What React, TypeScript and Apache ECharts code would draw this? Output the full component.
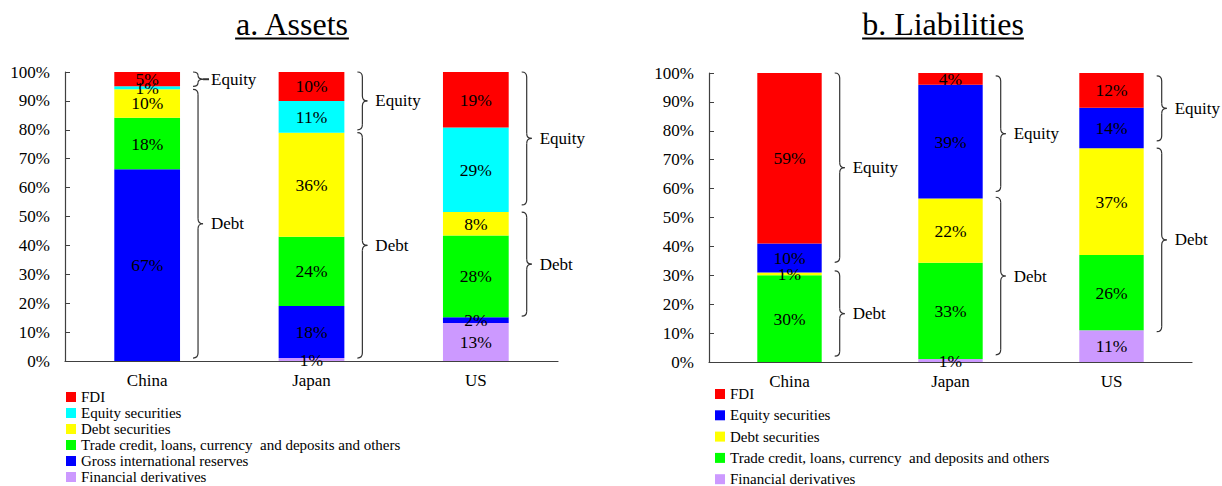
import React, { useEffect, useRef } from "react";
import * as echarts from "echarts";

const FONT = '"Liberation Serif", "Times New Roman", serif';

const categories = ["China", "Japan", "US"];

// a. Assets (% shares as labelled), bottom to top
const assetsDerivatives = [0, 1, 13];
const assetsReserves = [67, 18, 2];
const assetsTrade = [18, 24, 28];
const assetsDebtSec = [10, 36, 8];
const assetsEquitySec = [1, 11, 29];
const assetsFDI = [5, 10, 19];

// b. Liabilities (% shares as labelled), bottom to top
const liabDerivatives = [0, 1, 11];
const liabTrade = [30, 33, 26];
const liabDebtSec = [1, 22, 37];
const liabEquitySec = [10, 39, 14];
const liabFDI = [59, 4, 12];

// braces: [category, from %, to %, label]
const assetsBraces: [string, number, number, string][] = [
  ["China", 95, 100, "Equity"],
  ["China", 1, 94, "Debt"],
  ["Japan", 80, 100, "Equity"],
  ["Japan", 1, 79, "Debt"],
  ["US", 54, 100, "Equity"],
  ["US", 15.5, 51.5, "Debt"],
];
const liabBraces: [string, number, number, string][] = [
  ["China", 34.5, 100, "Equity"],
  ["China", 2, 31.5, "Debt"],
  ["Japan", 59, 99, "Equity"],
  ["Japan", 2.5, 57, "Debt"],
  ["US", 76.5, 99, "Equity"],
  ["US", 10.5, 74, "Debt"],
];

const RED = "#FF0000";
const CYAN = "#00FFFF";
const YELLOW = "#FFFF00";
const GREEN = "#00FF00";
const BLUE = "#0000FF";
const PURPLE = "#CC99FF";

const TRADE = "Trade credit, loans, currency  and deposits and others";

function totals(arrs: number[][]) {
  return categories.map((_, i) => arrs.reduce((s, a) => s + a[i], 0));
}

function makeSeries(g: number, name: string, vals: number[], tot: number[], color: string) {
  return {
    type: "bar",
    name,
    xAxisIndex: g,
    yAxisIndex: g,
    stack: "s" + g,
    barWidth: "40%",
    itemStyle: { color },
    emphasis: { disabled: true },
    label: {
      show: true,
      position: "inside",
      color: "#000",
      fontSize: 17.5,
      fontFamily: FONT,
      formatter: (p: any) => (p.data.raw ? p.data.raw + "%" : ""),
    },
    data: vals.map((v, i) => ({ value: (v / tot[i]) * 100, raw: v })),
  };
}

function measure(text: string, font: string) {
  const c = document.createElement("canvas").getContext("2d");
  if (!c) return text.length * 14;
  c.font = font;
  return c.measureText(text).width;
}

function braceElements(x: number, y1: number, y2: number, label: string) {
  const w = 10;
  const xm = x + w / 2;
  const ym = (y1 + y2) / 2;
  const r = Math.min(5, (y2 - y1) / 4);
  const st = { stroke: "#333", lineWidth: 1.2, fill: "none" };
  const els: any[] = [
    { type: "bezierCurve", shape: { x1: x, y1: y1, cpx1: xm, cpy1: y1, x2: xm, y2: y1 + r }, style: st },
    { type: "line", shape: { x1: xm, y1: y1 + r, x2: xm, y2: ym - r }, style: st },
    { type: "bezierCurve", shape: { x1: xm, y1: ym - r, cpx1: xm, cpy1: ym, x2: x + w, y2: ym }, style: st },
    { type: "bezierCurve", shape: { x1: x + w, y1: ym, cpx1: xm, cpy1: ym, x2: xm, y2: ym + r }, style: st },
    { type: "line", shape: { x1: xm, y1: ym + r, x2: xm, y2: y2 - r }, style: st },
    { type: "bezierCurve", shape: { x1: xm, y1: y2 - r, cpx1: xm, cpy1: y2, x2: x, y2: y2 }, style: st },
  ];
  if (y2 - y1 < 25) {
    els.push({ type: "line", shape: { x1: x + w, y1: ym, x2: x + w + 6, y2: ym }, style: { stroke: "#333", lineWidth: 2 } });
  }
  els.push({
    type: "text",
    x: x + w + 8,
    y: ym,
    style: { text: label, fontSize: 17, fontFamily: FONT, fill: "#000", align: "left", verticalAlign: "middle" },
  });
  return els;
}

export default function App() {
  const ref = useRef<HTMLDivElement>(null);
  useEffect(() => {
    if (!ref.current) return;
    const chart = echarts.init(ref.current, undefined, { renderer: "svg" });

    const tA = totals([assetsDerivatives, assetsReserves, assetsTrade, assetsDebtSec, assetsEquitySec, assetsFDI]);
    const tL = totals([liabDerivatives, liabTrade, liabDebtSec, liabEquitySec, liabFDI]);

    const axisColor = "#404040";
    const xAxisBase = (g: number) => ({
      type: "category",
      gridIndex: g,
      data: categories,
      axisLine: { lineStyle: { color: axisColor, width: 1.2 } },
      axisTick: { inside: true, length: 5, lineStyle: { color: axisColor } },
      axisLabel: { color: "#000", fontSize: 17, fontFamily: FONT, margin: 11 },
    });
    const yAxisBase = (g: number) => ({
      type: "value",
      gridIndex: g,
      min: 0,
      max: 100,
      interval: 10,
      axisLine: { show: true, lineStyle: { color: axisColor, width: 1.2 } },
      axisTick: { show: true, inside: true, length: 5, lineStyle: { color: axisColor } },
      splitLine: { show: false },
      axisLabel: { color: "#000", fontSize: 17, fontFamily: FONT, margin: 15, formatter: "{value}%" },
    });

    const legendBase = {
      orient: "vertical",
      itemWidth: 10,
      itemHeight: 10,
      icon: "rect",
      padding: 0,
      height: 140,
      selectedMode: false,
      textStyle: { fontSize: 15, lineHeight: 15, fontFamily: FONT, color: "#000" },
    };

    chart.setOption({
      animation: false,
      textStyle: { fontFamily: FONT },
      grid: [
        { left: 65, top: 72, width: 493, height: 289 },
        { left: 709, top: 73, width: 483, height: 289 },
      ],
      xAxis: [xAxisBase(0), xAxisBase(1)],
      yAxis: [yAxisBase(0), yAxisBase(1)],
      legend: [
        {
          ...legendBase,
          left: 66,
          top: 389.5,
          itemGap: 1,
          data: [
            { name: "FDI", itemStyle: { color: RED } },
            { name: "Equity securities", itemStyle: { color: CYAN } },
            { name: "Debt securities", itemStyle: { color: YELLOW } },
            { name: TRADE, itemStyle: { color: GREEN } },
            { name: "Gross international reserves", itemStyle: { color: BLUE } },
            { name: "Financial derivatives", itemStyle: { color: PURPLE } },
          ],
        },
        {
          ...legendBase,
          left: 715,
          top: 386.5,
          itemGap: 6.3,
          data: [
            { name: "FDI", itemStyle: { color: RED } },
            { name: "Equity securities", itemStyle: { color: BLUE } },
            { name: "Debt securities", itemStyle: { color: YELLOW } },
            { name: TRADE, itemStyle: { color: GREEN } },
            { name: "Financial derivatives", itemStyle: { color: PURPLE } },
          ],
        },
      ],
      series: [
        makeSeries(0, "Financial derivatives", assetsDerivatives, tA, PURPLE),
        makeSeries(0, "Gross international reserves", assetsReserves, tA, BLUE),
        makeSeries(0, TRADE, assetsTrade, tA, GREEN),
        makeSeries(0, "Debt securities", assetsDebtSec, tA, YELLOW),
        makeSeries(0, "Equity securities", assetsEquitySec, tA, CYAN),
        makeSeries(0, "FDI", assetsFDI, tA, RED),
        makeSeries(1, "Financial derivatives", liabDerivatives, tL, PURPLE),
        makeSeries(1, TRADE, liabTrade, tL, GREEN),
        makeSeries(1, "Debt securities", liabDebtSec, tL, YELLOW),
        makeSeries(1, "Equity securities", liabEquitySec, tL, BLUE),
        makeSeries(1, "FDI", liabFDI, tL, RED),
      ],
    });

    // annotations: braces and titles
    const graphics: any[] = [];
    const addBraces = (g: number, list: [string, number, number, string][]) => {
      const c0 = chart.convertToPixel({ gridIndex: g } as any, [categories[0], 0]) as number[];
      const c1 = chart.convertToPixel({ gridIndex: g } as any, [categories[1], 0]) as number[];
      const band = c1[0] - c0[0];
      const half = (band * 0.4) / 2;
      list.forEach(([cat, from, to, label]) => {
        const top = chart.convertToPixel({ gridIndex: g } as any, [cat, to]) as number[];
        const bot = chart.convertToPixel({ gridIndex: g } as any, [cat, from]) as number[];
        const x = top[0] + half + 13;
        graphics.push(...braceElements(x, top[1], bot[1], label));
      });
    };
    addBraces(0, assetsBraces);
    addBraces(1, liabBraces);

    const titleFont = '32px "Liberation Serif"';
    const titles: [string, number][] = [
      ["a. Assets", 292],
      ["b. Liabilities", 943],
    ];
    titles.forEach(([t, cx]) => {
      const w = measure(t, titleFont);
      graphics.push({
        type: "text",
        x: cx,
        y: 24,
        style: { text: t, fontSize: 32, fontFamily: FONT, fill: "#000", align: "center", verticalAlign: "middle" },
      });
      graphics.push({
        type: "line",
        shape: { x1: cx - w / 2, y1: 38.5, x2: cx + w / 2, y2: 38.5 },
        style: { stroke: "#000", lineWidth: 2 },
      });
    });

    chart.setOption({ graphic: graphics });

    return () => chart.dispose();
  }, []);
  return <div ref={ref} style={{ position: "absolute", left: 0, top: 0, width: 1222, height: 486 }} />;
}
